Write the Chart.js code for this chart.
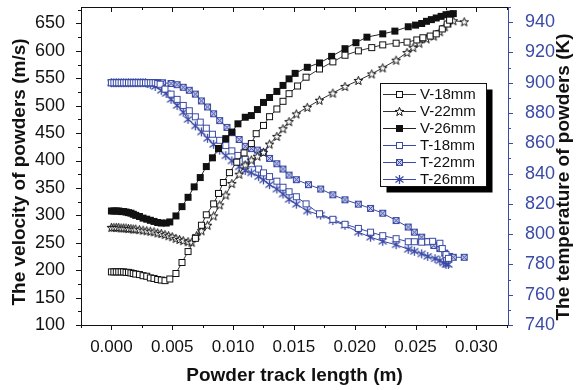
<!DOCTYPE html>
<html>
<head>
<meta charset="utf-8">
<script src="https://cdn.jsdelivr.net/npm/chart.js@4.4.1/dist/chart.umd.min.js"></script>
<style>
  html, body { margin: 0; padding: 0; background: #fff; }
</style>
</head>
<body>
<canvas id="powder" width="576" height="390"></canvas>
<script>
// track length (m) vs velocity (m/s)
const v18 = [[0.0000,197],[0.0002,197],[0.0004,197],[0.0006,197],[0.0008,197],[0.0010,197],[0.0012,196],[0.0014,196],[0.0016,195],[0.0018,194],[0.0020,193],[0.0023,192],[0.0026,190],[0.0029,189],[0.0032,186],[0.0035,185],[0.0038,183],[0.0041,182],[0.0044,181],[0.0048,184],[0.0053,194],[0.0058,214],[0.0063,234],[0.0069,258],[0.0074,282],[0.0078,301],[0.0084,321],[0.0088,340],[0.0092,360],[0.0097,378],[0.0103,397],[0.0109,414],[0.0115,431],[0.0119,449],[0.0125,464],[0.0130,480],[0.0136,494],[0.0141,508],[0.0146,522],[0.0153,536],[0.0160,552],[0.0171,567],[0.0182,580],[0.0192,592],[0.0203,600],[0.0214,606],[0.0223,611],[0.0234,614],[0.0243,616],[0.0251,620],[0.0256,624],[0.0262,627],[0.0267,631],[0.0272,640],[0.0276,649],[0.0278,656]];
const v22 = [[0.0000,278],[0.0002,278],[0.0004,278],[0.0006,278],[0.0008,277],[0.0010,277],[0.0012,277],[0.0014,276],[0.0016,276],[0.0018,275],[0.0020,275],[0.0023,274],[0.0026,273],[0.0029,272],[0.0032,271],[0.0035,270],[0.0038,268],[0.0041,267],[0.0044,265],[0.0047,263],[0.0050,261],[0.0053,258],[0.0056,256],[0.0059,254],[0.0063,252],[0.0066,251],[0.0070,263],[0.0074,272],[0.0079,282],[0.0084,299],[0.0089,319],[0.0094,337],[0.0099,358],[0.0105,375],[0.0110,392],[0.0115,401],[0.0120,408],[0.0125,415],[0.0130,430],[0.0136,444],[0.0141,458],[0.0146,471],[0.0152,485],[0.0161,497],[0.0171,510],[0.0182,523],[0.0192,535],[0.0203,546],[0.0214,558],[0.0223,569],[0.0234,583],[0.0243,597],[0.0248,606],[0.0253,614],[0.0259,622],[0.0265,627],[0.0270,635],[0.0274,644],[0.0277,651],[0.0281,655],[0.0290,653]];
const v26 = [[0.0000,308],[0.0002,308],[0.0004,308],[0.0006,308],[0.0008,307],[0.0010,307],[0.0012,306],[0.0014,305],[0.0016,304],[0.0018,302],[0.0020,300],[0.0023,298],[0.0026,295],[0.0029,293],[0.0032,291],[0.0035,289],[0.0038,287],[0.0041,286],[0.0045,286],[0.0048,288],[0.0053,299],[0.0058,316],[0.0063,333],[0.0068,352],[0.0073,369],[0.0078,389],[0.0083,405],[0.0088,422],[0.0094,440],[0.0099,452],[0.0104,467],[0.0110,479],[0.0115,482],[0.0120,493],[0.0125,506],[0.0130,515],[0.0136,526],[0.0141,537],[0.0146,549],[0.0151,559],[0.0161,570],[0.0171,578],[0.0181,590],[0.0192,604],[0.0201,615],[0.0210,625],[0.0223,631],[0.0233,636],[0.0244,644],[0.0250,647],[0.0255,650],[0.0259,654],[0.0263,657],[0.0267,660],[0.0271,663],[0.0275,666],[0.0278,667],[0.0281,668]];

// track length (m) vs temperature (K)
const t18 = [[0.0000,900],[0.0002,900],[0.0004,900],[0.0006,900],[0.0008,900],[0.0010,900],[0.0012,900],[0.0014,900],[0.0016,900],[0.0018,900],[0.0020,900],[0.0022,900],[0.0024,900],[0.0026,900],[0.0028,900],[0.0030,900],[0.0032,900],[0.0034,900],[0.0036,900],[0.0038,899.5],[0.0040,899],[0.0044,895.8],[0.0049,892.5],[0.0054,889],[0.0059,885],[0.0064,881.5],[0.0069,877.5],[0.0073,874],[0.0078,870],[0.0083,866],[0.0089,862],[0.0094,858.5],[0.0099,855],[0.0104,852],[0.0110,849.5],[0.0115,846.5],[0.0121,843],[0.0125,840.5],[0.0130,838],[0.0136,835],[0.0141,831],[0.0146,828],[0.0152,824.7],[0.0160,820],[0.0171,813.5],[0.0182,809.8],[0.0192,806.5],[0.0203,803.8],[0.0213,801.3],[0.0223,799],[0.0234,797],[0.0244,795],[0.0249,795],[0.0255,794.7],[0.0260,795],[0.0264,795.3],[0.0270,794],[0.0272,790.5],[0.0275,786.5],[0.0277,784]];
const t22 = [[0.0000,900],[0.0002,900],[0.0004,900],[0.0006,900],[0.0008,900],[0.0010,900],[0.0012,900],[0.0014,900],[0.0016,900],[0.0018,900],[0.0020,900],[0.0022,900],[0.0024,900],[0.0026,900],[0.0028,900],[0.0030,900],[0.0032,900],[0.0034,900],[0.0036,900],[0.0038,900],[0.0042,900],[0.0049,899.5],[0.0054,898.7],[0.0059,897],[0.0064,895],[0.0069,892.5],[0.0074,888],[0.0079,884],[0.0084,879.5],[0.0089,875],[0.0095,870.5],[0.0099,867],[0.0105,862.5],[0.0110,858],[0.0115,856.5],[0.0120,855.5],[0.0125,854],[0.0130,850],[0.0136,846.5],[0.0141,843],[0.0146,839],[0.0152,836],[0.0162,832.7],[0.0172,829.8],[0.0182,826],[0.0192,822.7],[0.0203,819.8],[0.0213,817],[0.0223,813.8],[0.0234,809],[0.0244,804.7],[0.0249,801.3],[0.0255,798],[0.0260,795],[0.0265,792.5],[0.0270,790.5],[0.0274,787.5],[0.0278,785.3],[0.0281,784.7],[0.0290,784.7]];
const t26 = [[0.0000,900],[0.0002,900],[0.0004,900],[0.0006,900],[0.0008,900],[0.0010,900],[0.0012,900],[0.0014,900],[0.0016,900],[0.0018,900],[0.0020,900],[0.0022,900],[0.0024,900],[0.0026,900],[0.0028,900],[0.0030,899.5],[0.0032,899],[0.0036,897.5],[0.0041,895],[0.0045,893],[0.0049,889],[0.0054,885],[0.0059,880.5],[0.0063,875.8],[0.0069,871.5],[0.0074,867.5],[0.0079,863.3],[0.0084,859.3],[0.0089,855.5],[0.0094,851.8],[0.0099,848.4],[0.0105,844.5],[0.0110,842],[0.0115,840.5],[0.0121,838],[0.0125,835.8],[0.0130,832.7],[0.0136,829.8],[0.0141,826.5],[0.0146,823],[0.0152,819.8],[0.0161,815.3],[0.0172,812.6],[0.0182,809],[0.0192,805.8],[0.0203,801.3],[0.0213,798],[0.0223,795.3],[0.0234,793],[0.0244,790],[0.0249,788.7],[0.0255,787],[0.0260,785.3],[0.0266,783.8],[0.0270,782.5],[0.0273,781],[0.0275,780],[0.0277,780]];

const seriesNames = ['V-18mm', 'V-22mm', 'V-26mm', 'T-18mm', 'T-22mm', 'T-26mm'];
const xTicks = [0, 0.005, 0.010, 0.015, 0.020, 0.025, 0.030];
const velTicks = [100, 150, 200, 250, 300, 350, 400, 450, 500, 550, 600, 650];
const tempTicks = [740, 760, 780, 800, 820, 840, 860, 880, 900, 920, 940];

const FONT = '"Liberation Sans", Arial, sans-serif';
const INK = '#111';
const BLUE = '#3a4aa5';
Chart.defaults.font.family = FONT;

// marker sprites
function sprite(size, draw) {
  const c = document.createElement('canvas');
  c.width = c.height = size;
  draw(c.getContext('2d'), size / 2);
  return c;
}
const openSquare = col => sprite(9, (g) => {
  g.fillStyle = '#fff'; g.fillRect(1.5, 1.5, 6, 6);
  g.strokeStyle = col; g.lineWidth = 1; g.strokeRect(1.5, 1.5, 6, 6);
});
const solidSquare = col => sprite(9, (g) => {
  g.fillStyle = col; g.fillRect(1, 1, 7, 7);
});
const crossSquare = col => sprite(9, (g) => {
  g.fillStyle = '#c9cde8'; g.fillRect(1.5, 1.5, 6, 6);
  g.strokeStyle = col; g.lineWidth = 1; g.strokeRect(1.5, 1.5, 6, 6);
  g.beginPath(); g.moveTo(2, 2); g.lineTo(7, 7); g.moveTo(7, 2); g.lineTo(2, 7); g.stroke();
});
const openStar = col => sprite(11, (g, m) => {
  g.beginPath();
  for (let i = 0; i < 10; i++) {
    const r = i % 2 ? 1.9 : 4.6;
    const a = -Math.PI / 2 + i * Math.PI / 5;
    g.lineTo(m + r * Math.cos(a), m + 0.4 + r * Math.sin(a));
  }
  g.closePath();
  g.fillStyle = '#fff'; g.fill();
  g.strokeStyle = col; g.lineWidth = 1; g.stroke();
});
const asterisk = col => sprite(11, (g, m) => {
  g.strokeStyle = col; g.lineWidth = 1.3;
  g.beginPath();
  g.moveTo(m - 4, m - 3); g.lineTo(m + 4, m + 3);
  g.moveTo(m + 4, m - 3); g.lineTo(m - 4, m + 3);
  g.moveTo(m, m - 4.5); g.lineTo(m, m + 4.5);
  g.stroke();
});

const marks = [openSquare(INK), openStar(INK), solidSquare(INK), openSquare(BLUE), crossSquare(BLUE), asterisk(BLUE)];
const lineCols = ['#333', '#333', '#222', BLUE, BLUE, BLUE];
const allData = [v18, v22, v26, t18, t22, t26];

const datasets = allData.map((arr, i) => ({
  label: seriesNames[i],
  data: arr.map(([x, y]) => ({ x, y })),
  yAxisID: i < 3 ? 'y' : 'y2',
  showLine: true,
  borderColor: lineCols[i],
  borderWidth: 1,
  pointStyle: marks[i],
  pointRadius: 4,
  order: i
}));

// keep the plot box fixed: no extra room for edge labels
const noEdgePad = s => { s.paddingTop = 0; s.paddingBottom = 0; s.paddingLeft = 0; s.paddingRight = 0; };

// axis ticks (major + minor), frame, rotated titles and the boxed legend
const decor = {
  id: 'decor',
  afterDraw(chart) {
    const { ctx, chartArea: a, scales } = chart;
    const sx = scales.x, sy = scales.y, sy2 = scales.y2;
    ctx.save();
    ctx.lineWidth = 1;

    // top frame line
    ctx.strokeStyle = INK;
    ctx.beginPath(); ctx.moveTo(a.left, a.top + 0.5); ctx.lineTo(a.right, a.top + 0.5); ctx.stroke();

    ctx.beginPath();
    for (let k = -1; k <= 13; k++) {
      const v = k * 0.0025;
      const px = Math.round(sx.getPixelForValue(v)) + 0.5;
      const len = k % 2 === 0 ? 5 : 3;
      ctx.moveTo(px, a.bottom); ctx.lineTo(px, a.bottom + len);
      ctx.moveTo(px, a.top); ctx.lineTo(px, a.top + len);
    }
    for (let k = 0; k <= 23; k++) {
      const v = 100 + k * 25;
      const py = Math.round(sy.getPixelForValue(v)) + 0.5;
      ctx.moveTo(a.left, py); ctx.lineTo(a.left - (k % 2 === 0 ? 5 : 3), py);
    }
    ctx.stroke();

    ctx.strokeStyle = BLUE;
    ctx.beginPath();
    for (let k = 0; k <= 21; k++) {
      const v = 740 + k * 10;
      const py = Math.round(sy2.getPixelForValue(v)) + 0.5;
      ctx.moveTo(a.right, py); ctx.lineTo(a.right + (k % 2 === 0 ? 5 : 3), py);
    }
    ctx.stroke();

    // y titles, both reading bottom to top
    ctx.fillStyle = INK;
    ctx.font = 'bold 19px ' + FONT;
    ctx.textAlign = 'center';
    ctx.textBaseline = 'middle';
    ctx.save();
    ctx.translate(20, 172); ctx.rotate(-Math.PI / 2);
    ctx.fillText('The velocity of powders (m/s)', 0, 0);
    ctx.restore();
    ctx.save();
    ctx.translate(564, 177); ctx.rotate(-Math.PI / 2);
    ctx.fillText('The temperature of powders (K)', 0, 0);
    ctx.restore();

    // legend
    const bx = 380.5, by = 83.5, bw = 106, bh = 103;
    ctx.fillStyle = '#000';
    ctx.fillRect(bx + 6, by + 6, bw, bh);
    ctx.fillStyle = '#fff';
    ctx.fillRect(bx, by, bw, bh);
    ctx.strokeStyle = INK;
    ctx.strokeRect(bx, by, bw, bh);
    ctx.font = '15px ' + FONT;
    ctx.textAlign = 'left';
    datasets.forEach((ds, i) => {
      const y = Math.round(94 + i * 17) + 0.5;
      ctx.strokeStyle = ds.borderColor;
      ctx.beginPath(); ctx.moveTo(383, y); ctx.lineTo(416, y); ctx.stroke();
      const img = ds.pointStyle;
      ctx.drawImage(img, Math.round(399.5 - img.width / 2), Math.round(y - img.height / 2));
      ctx.fillStyle = INK;
      ctx.fillText(ds.label, 420, y);
    });
    ctx.restore();
  }
};

new Chart(document.getElementById('powder'), {
  type: 'scatter',
  data: { datasets },
  options: {
    responsive: false,
    animation: false,
    layout: { padding: { top: 7, left: 0, right: 0, bottom: 0 } },
    scales: {
      x: {
        type: 'linear',
        min: -0.0025,
        max: 0.0326,
        afterBuildTicks: s => { s.ticks = xTicks.map(value => ({ value })); },
        afterFit: s => { s.height = 65; noEdgePad(s); },
        grid: { display: false },
        border: { display: true, color: INK, width: 1 },
        ticks: { color: INK, font: { size: 17 }, padding: 4, maxRotation: 0, autoSkip: false,
                 callback: v => v.toFixed(3) },
        title: { display: true, text: 'Powder track length (m)', color: INK,
                 font: { size: 19, weight: 'bold' }, padding: { top: 0, bottom: 3 } }
      },
      y: {
        position: 'left',
        min: 100,
        max: 680,
        afterBuildTicks: s => { s.ticks = velTicks.map(value => ({ value })); },
        afterFit: s => { s.width = 81; noEdgePad(s); },
        grid: { display: false },
        border: { display: true, color: INK, width: 1 },
        ticks: { color: INK, font: { size: 18 }, padding: 8 }
      },
      y2: {
        position: 'right',
        min: 740,
        max: 950,
        afterBuildTicks: s => { s.ticks = tempTicks.map(value => ({ value })); },
        afterFit: s => { s.width = 68; noEdgePad(s); },
        grid: { display: false },
        border: { display: true, color: BLUE, width: 1 },
        ticks: { color: BLUE, font: { size: 18 }, padding: 9 }
      }
    },
    plugins: {
      legend: { display: false },
      tooltip: { enabled: false }
    }
  },
  plugins: [decor]
});
</script>
</body>
</html>
